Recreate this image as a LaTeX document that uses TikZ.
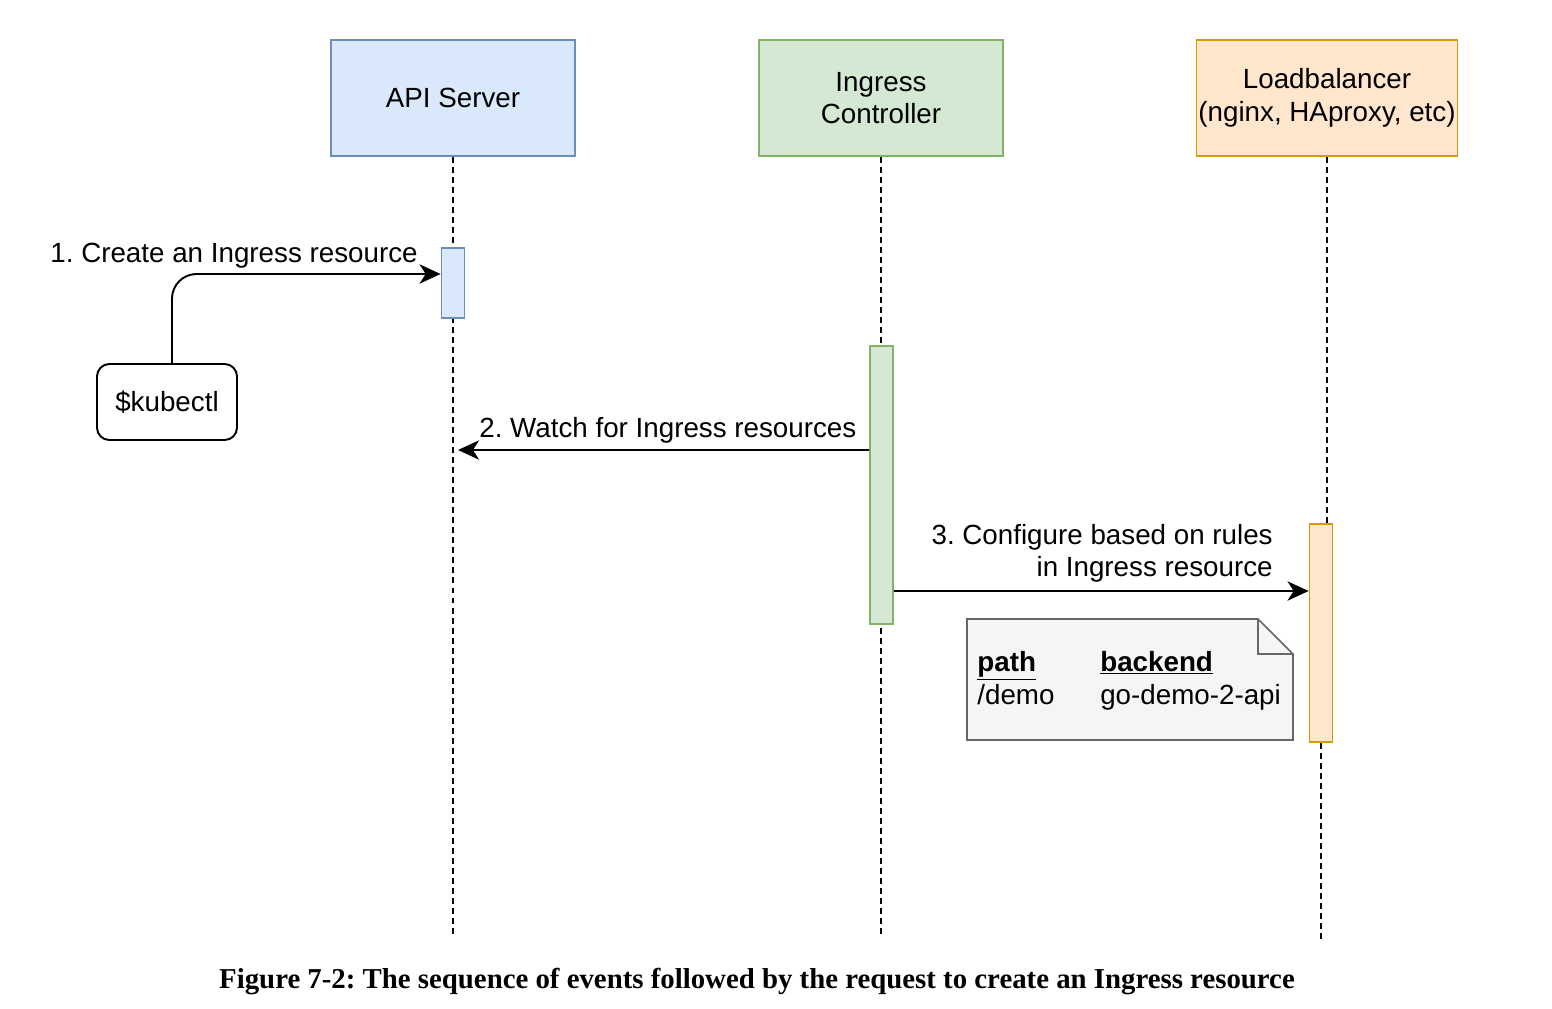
\documentclass[tikz,border=0pt]{standalone}
\usepackage{fontspec}
\setmainfont{Liberation Sans}
\newfontfamily\figcaptionfont{Liberation Serif}
\usetikzlibrary{arrows.meta}
\definecolor{apifill}{HTML}{DAE8FC}
\definecolor{apiline}{HTML}{6C8EBF}
\definecolor{ctrlfill}{HTML}{D5E8D4}
\definecolor{ctrlline}{HTML}{82B366}
\definecolor{lbfill}{HTML}{FFE6CC}
\definecolor{lbline}{HTML}{D79B00}
\definecolor{notefill}{HTML}{F5F5F5}
\definecolor{noteline}{HTML}{666666}
\frenchspacing

\begin{document}
\begin{tikzpicture}[x=0.02cm, y=-0.02cm,
	font=\fontsize{15.8}{18.6}\selectfont,
	actor/.style={shape=rectangle, draw, line width=1pt, minimum width=4.88cm, minimum height=2.32cm, align=center, inner sep=0pt},
	activation/.style={shape=rectangle, draw, line width=1pt, minimum width=0.46cm, inner sep=0pt},
	lifeline/.style={line width=1.1pt, dash pattern={on 3.4pt off 2.3pt}},
	msg/.style={line width=1.1pt, -{Stealth[length=12pt, width=11pt, inset=3.5pt]}}]
	\useasboundingbox (0,0) rectangle (1552,1008);
	% Actors, lifelines and messages:
	\node[actor, fill=apifill, draw=apiline] (api) at (453,98){API Server};
	\node[actor, fill=ctrlfill, draw=ctrlline] (ctrl) at (881,98){Ingress\\Controller};
	\node[actor, fill=lbfill, draw=lbline, minimum width=5.22cm] (lb) at (1327,98){Loadbalancer\\(nginx, HAproxy, etc)};
	\coordinate (apiend) at (453,937);
	\coordinate (ctrlend) at (881,937);
	\coordinate (lbend) at (1321,943);
	\draw[lifeline] (api.south) -- (apiend);
	\draw[lifeline] (ctrl.south) -- (ctrlend);
	\node[activation, fill=apifill, draw=apiline, minimum height=1.4cm] (apiact) at (453,283){};
	\node[activation, fill=ctrlfill, draw=ctrlline, minimum height=5.56cm] (ctrlact) at (881.5,485){};
	\node[activation, fill=lbfill, draw=lbline, minimum height=4.36cm] (lbact) at (1321,633){};
	\draw[lifeline] (lb.south) -- (lb.south |- lbact.north);
	\draw[lifeline] (lbact.south) -- (lbend);
	\node[shape=rectangle, rounded corners=7pt, draw, line width=1.1pt, minimum width=2.8cm, minimum height=1.52cm] (kubectl) at (167,402){\$kubectl};
	\draw[msg, rounded corners=14pt] ([xshift=0.1cm]kubectl.north) |- ([yshift=0.18cm]apiact.west);
	\node[anchor=base east, inner sep=0pt] (create) at (418,262){1. Create an Ingress resource};
	\coordinate (watchend) at (458,450);
	\draw[msg] ([yshift=0.7cm]ctrlact.west) -- (watchend);
	\node[anchor=base west, inner sep=0pt] (watch) at (479,437){2. Watch for Ingress resources};
	\draw[msg] ([yshift=-2.12cm]ctrlact.east) -- ([yshift=0.84cm]lbact.west);
	\node[anchor=east, align=right, inner sep=0pt, font=\fontsize{15.8}{18.1}\selectfont] (configure) at (1273,553){3. Configure based on rules\\in Ingress resource};
	% Note with the rules:
	\draw[fill=notefill, draw=noteline, line width=1pt] (967,619) -- (1258,619) -- (1293,654) -- (1293,740) -- (967,740) -- cycle;
	\draw[draw=noteline, line width=1pt] (1258,619) -- (1258,654) -- (1293,654);
	\node[anchor=west, inner sep=0pt, font=\fontsize{15.8}{18.8}\selectfont] (rules) at (977,681){\begin{tabular}{@{}p{2.46cm}@{}l@{}}\underline{\textbf{path}} & \underline{\textbf{backend}}\\/demo & go-demo-2-api\end{tabular}};
	% Caption:
	\node[font=\figcaptionfont\bfseries\fontsize{16.4}{19}\selectfont] (caption) at (757,982){Figure 7-2: The sequence of events followed by the request to create an Ingress resource};
\end{tikzpicture}
\end{document}
